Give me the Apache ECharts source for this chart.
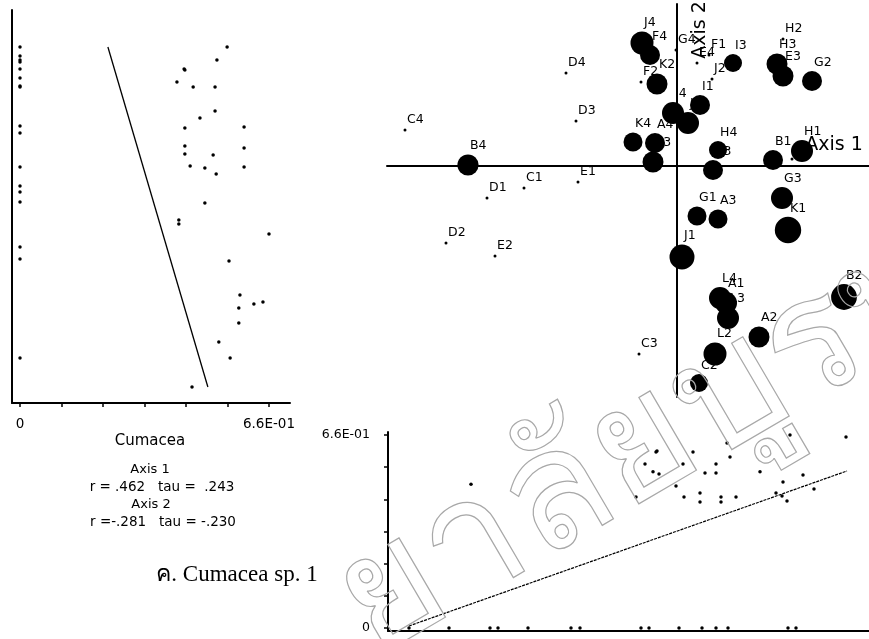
<!DOCTYPE html>
<html>
<head>
<meta charset="utf-8">
<title>Cumacea sp. 1 ordination</title>
<script src="https://cdn.jsdelivr.net/npm/echarts@6/dist/echarts.min.js"></script>
<style>
  html, body { margin: 0; padding: 0; background: #fff; }
  #chart { width: 869px; height: 639px; }
</style>
</head>
<body>
<div id="chart"></div>
<script>
// Site scores on ordination axes 1 and 2, with Cumacea sp. 1 abundance per site
const siteNames = ['J4','F4','G4','F2','K2','E4','F1','I3','J2','H2','H3','E3','G2','I1','I4','J3',
  'D4','D3','C4','B4','K4','A4','K3','H4','B3','B1','H1','L1','G3','K1','G1','A3','J1','B2',
  'L4','A1','L3','A2','L2','C2','C3','D1','C1','E1','D2','E2'];
const axis1Scores = [-0.35,-0.27,-0.01,-0.36,-0.20,0.20,0.32,0.56,0.35,1.06,1.00,1.06,1.35,0.23,-0.04,0.11,
  -1.11,-1.01,-2.72,-2.09,-0.44,-0.22,-0.24,0.41,0.36,0.96,1.25,1.15,1.05,1.11,0.20,0.41,0.05,1.67,
  0.43,0.49,0.51,0.82,0.38,0.22,-0.38,-1.90,-1.53,-0.99,-2.31,-1.82];
const axis2Scores = [1.23,1.11,1.16,0.84,0.82,1.03,1.11,1.03,0.87,1.27,1.02,0.90,0.85,0.61,0.53,0.43,
  0.93,0.45,0.36,0.01,0.24,0.23,0.04,0.16,-0.04,0.06,0.15,0.07,-0.32,-0.64,-0.50,-0.53,-0.91,-1.31,
  -1.32,-1.37,-1.52,-1.71,-1.88,-2.17,-1.88,-0.32,-0.22,-0.16,-0.77,-0.90];
const cumaceaAbund = [0.575,0.50,0,0,0.525,0,0,0.45,0,0,0.525,0.525,0.50,0.50,0.55,0.55,
  0,0,0,0.53,0.475,0.50,0.525,0.45,0.50,0.50,0.55,0,0.55,0.66,0.475,0.475,0.625,0.645,
  0.55,0.55,0.55,0.525,0.575,0.45,0,0,0,0,0,0];

// Left panel: Cumacea abundance against Axis 2 score
const leftAbund = [0,0,0,0,0,0,0,0,0,0,0,0,0,0,0,0,0,
  0.416,0.435,0.437,0.459,0.517,0.522,0.549,0.477,0.517,0.437,0.594,0.437,0.437,0.512,0.594,
  0.451,0.490,0.520,0.594,0.490,0.421,0.421,0.660,0.554,0.583,0.580,0.620,0.644,0.580,0.527,0.557,0.456];
const leftAxis2 = [1.23,1.14,1.10,1.08,1.01,0.92,0.84,0.83,0.44,0.37,0.03,-0.16,-0.22,-0.32,-0.77,-0.89,-1.88,
  0.88,1.01,1.00,0.83,0.83,1.10,1.23,0.52,0.59,0.42,0.43,0.24,0.16,0.15,0.22,
  0.04,0.02,-0.04,0.03,-0.33,-0.50,-0.54,-0.64,-0.91,-1.25,-1.38,-1.34,-1.32,-1.53,-1.72,-1.88,-2.17];
const leftFitAbund = [0.233, 0.498];
const leftFitAxis2 = [1.23, -2.17];

// Bottom panel: Axis 1 score against Cumacea abundance
const bottomAxis1 = [-2.71,-2.31,-1.90,-1.82,-1.52,-1.09,-1.00,-0.39,-0.31,-0.01,0.22,0.36,0.48,1.08,1.16,
  -2.09,-0.44,-0.35,-0.24,-0.23,-0.27,-0.21,-0.04,0.03,0.04,0.13,0.20,0.20,0.25,0.36,0.36,0.41,0.41,
  0.47,0.50,0.56,0.80,0.96,1.02,1.03,1.07,1.10,1.23,1.34,1.66];
const bottomAbund = [0,0,0,0,0,0,0,0,0,0,0,0,0,0,0,
  0.492,0.448,0.561,0.602,0.605,0.534,0.527,0.486,0.561,0.448,0.602,0.462,0.431,0.530,0.561,0.530,0.448,0.431,
  0.633,0.585,0.448,0.534,0.462,0.451,0.499,0.434,0.660,0.523,0.475,0.653];
const bottomFitAxis1 = [-2.71, 1.67];
const bottomFitAbund = [0.007, 0.537];

// Abundance ticks shared by both side panels
const abundTicks = [0, 0.11, 0.22, 0.33, 0.44, 0.55, 0.66];
const abundLabelValues = [0, 0.66];
const abundLabelText = ['0', '6.6E-01'];

const FONT = '"DejaVu Sans", "Liberation Sans", Arial, sans-serif';
const INK = '#000';

const chart = echarts.init(document.getElementById('chart'), null, { renderer: 'canvas' });

const pairs = (xs, ys) => xs.map((x, i) => [x, ys[i]]);
const abundLabel = v => {
  const i = abundLabelValues.findIndex(t => Math.abs(t - v) < 1e-6);
  return i >= 0 ? abundLabelText[i] : '';
};

const bareAxis = (extra) => Object.assign({
  type: 'value', scale: false,
  splitLine: { show: false },
  axisTick: { show: false },
  axisLabel: { show: false },
  axisLine: { show: true, onZero: false, lineStyle: { color: INK, width: 2 } }
}, extra);

const text = (x, y, str, size, align, rotation) => ({
  type: 'text', x, y, silent: true, rotation: rotation || 0,
  style: {
    text: str, fill: INK, font: size + 'px ' + FONT,
    textAlign: align || 'center', textVerticalAlign: 'middle'
  }
});

const option = {
  animation: false,
  backgroundColor: '#fff',
  textStyle: { fontFamily: FONT, color: INK },
  grid: [
    { left: 387, top: 4, width: 482, height: 393 },   // main ordination
    { left: 12, top: 10, width: 278, height: 393 },   // abundance vs Axis 2
    { left: 388, top: 432, width: 481, height: 199 }  // Axis 1 vs abundance
  ],
  xAxis: [
    bareAxis({ gridIndex: 0, min: -2.90, max: 1.92,
      axisLine: { show: true, onZero: true, lineStyle: { color: INK, width: 2 } } }),
    bareAxis({ gridIndex: 1, min: -0.0212, max: 0.7157,
      axisTick: { show: true, customValues: abundTicks, length: 4, lineStyle: { color: INK, width: 1.5 } },
      axisLabel: { show: true, customValues: abundLabelValues, formatter: abundLabel,
        margin: 14, fontSize: 13.5, color: INK, fontFamily: FONT } }),
    bareAxis({ gridIndex: 2, min: -2.92, max: 1.89 })
  ],
  yAxis: [
    bareAxis({ gridIndex: 0, min: -2.31, max: 1.62,
      axisLine: { show: true, onZero: true, lineStyle: { color: INK, width: 2 } } }),
    bareAxis({ gridIndex: 1, min: -2.33, max: 1.60 }),
    bareAxis({ gridIndex: 2, min: -0.0103, max: 0.6703,
      axisTick: { show: true, customValues: abundTicks, length: 4, lineStyle: { color: INK, width: 1.5 } },
      axisLabel: { show: true, customValues: abundLabelValues, formatter: abundLabel,
        margin: 18, fontSize: 12.5, color: INK, fontFamily: FONT } })
  ],
  series: [
    {
      type: 'scatter', xAxisIndex: 0, yAxisIndex: 0, silent: true,
      data: siteNames.map((n, i) => ({ name: n, value: [axis1Scores[i], axis2Scores[i], cumaceaAbund[i]] })),
      symbol: 'circle',
      symbolSize: v => (v[2] > 0 ? v[2] * 40 : 3),
      itemStyle: { color: INK, opacity: 1 },
      label: {
        show: true, formatter: '{b}', position: ['50%', 0],
        align: 'left', verticalAlign: 'bottom', offset: [2, -2],
        fontSize: 12.5, color: INK, fontFamily: FONT
      },
      emphasis: { disabled: true }
    },
    {
      type: 'scatter', xAxisIndex: 1, yAxisIndex: 1, silent: true,
      data: pairs(leftAbund, leftAxis2), symbolSize: 3.5,
      itemStyle: { color: INK, opacity: 1 }, emphasis: { disabled: true }
    },
    {
      type: 'line', xAxisIndex: 1, yAxisIndex: 1, silent: true,
      data: pairs(leftFitAbund, leftFitAxis2), showSymbol: false, symbol: 'none',
      lineStyle: { color: INK, width: 1.3 }
    },
    {
      type: 'scatter', xAxisIndex: 2, yAxisIndex: 2, silent: true,
      data: pairs(bottomAxis1, bottomAbund), symbolSize: 3.5,
      itemStyle: { color: INK, opacity: 1 }, emphasis: { disabled: true }
    },
    {
      type: 'line', xAxisIndex: 2, yAxisIndex: 2, silent: true,
      data: pairs(bottomFitAxis1, bottomFitAbund), showSymbol: false, symbol: 'none',
      lineStyle: { color: INK, width: 1.2, type: [3, 1] }
    }
  ],
  graphic: [
    text(834, 145, 'Axis 1', 19),
    text(700, 30, 'Axis 2', 19, 'center', Math.PI / 2),
    text(150, 441, 'Cumacea', 15),
    text(150, 470, 'Axis 1', 13),
    text(162, 487, 'r = .462   tau =  .243', 13.5),
    text(151, 505, 'Axis 2', 13),
    text(163, 522, 'r =-.281   tau = -.230', 13.5),
    {
      type: 'text', x: 237, y: 575, silent: true,
      style: { text: 'ค. Cumacea sp. 1', fill: INK,
        font: '23px "Liberation Serif", "Times New Roman", serif',
        textAlign: 'center', textVerticalAlign: 'middle' }
    },
    {
      // outlined library stamp across the lower right
      type: 'text', x: 392, y: 690, rotation: 0.53, silent: true, z: 100,
      style: { text: 'ยาลัยบูรพา', fill: 'none', stroke: '#a8a8a8', lineWidth: 1.2,
        font: '165px "Noto Sans", "DejaVu Sans", sans-serif',
        textAlign: 'left', textVerticalAlign: 'bottom' }
    }
  ]
};

chart.setOption(option);
</script>
</body>
</html>
